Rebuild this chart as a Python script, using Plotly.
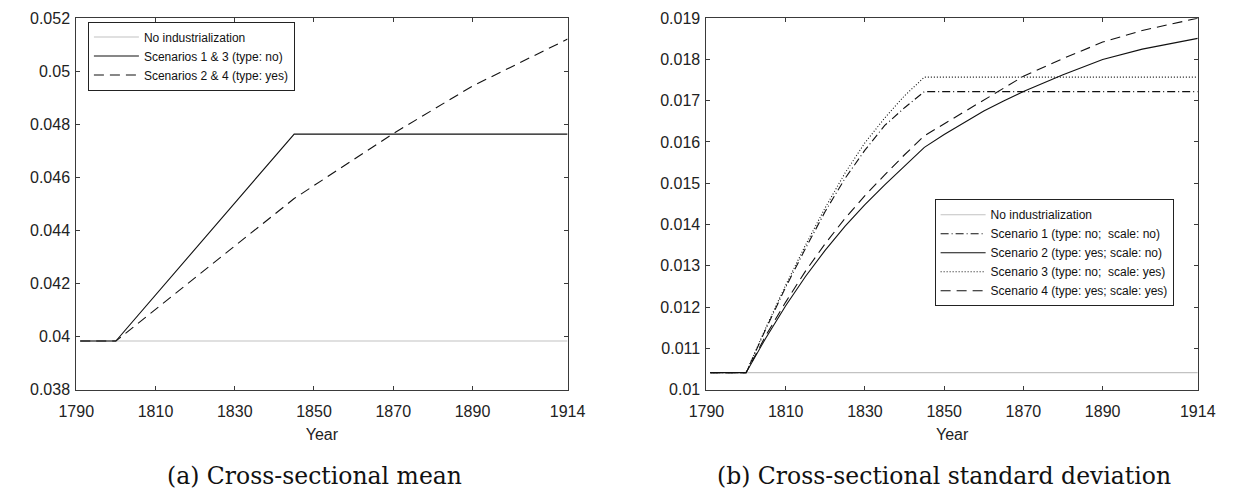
import plotly.graph_objects as go

# ---------------- data ----------------
years_mean = [1791, 1800, 1845, 1870, 1890, 1914]
mean_no_ind = [0.03983, 0.03983, 0.03983, 0.03983, 0.03983, 0.03983]
mean_s13 = [0.03983, 0.03983, 0.04763, 0.04763, 0.04763, 0.04763]
mean_s24 = [0.03983, 0.03983, 0.04520, 0.04765, 0.04944, 0.05121]

years_sd = [1791, 1800, 1805, 1810, 1815, 1820, 1825, 1830, 1835, 1840, 1845,
            1850, 1855, 1860, 1865, 1870, 1880, 1890, 1900, 1914]
sd_no_ind = [0.01041] * 20
sd_s1 = [0.01041, 0.01041, 0.01147, 0.01248, 0.01342, 0.01432, 0.01512, 0.01580, 0.01640, 0.01683, 0.01722,
         0.01722, 0.01722, 0.01722, 0.01722, 0.01722, 0.01722, 0.01722, 0.01722, 0.01722]
sd_s2 = [0.01041, 0.01041, 0.01125, 0.01203, 0.01274, 0.01338, 0.01396, 0.01448, 0.01496, 0.01542, 0.01587,
         0.01618, 0.01647, 0.01675, 0.01699, 0.01722, 0.01763, 0.01800, 0.01825, 0.01851]
sd_s3 = [0.01041, 0.01041, 0.01150, 0.01253, 0.01350, 0.01441, 0.01525, 0.01598, 0.01658, 0.01712, 0.01757,
         0.01757, 0.01757, 0.01757, 0.01757, 0.01757, 0.01757, 0.01757, 0.01757, 0.01757]
sd_s4 = [0.01041, 0.01041, 0.01131, 0.01212, 0.01287, 0.01354, 0.01415, 0.01470, 0.01520, 0.01569, 0.01615,
         0.01644, 0.01673, 0.01702, 0.01731, 0.01759, 0.01802, 0.01842, 0.01870, 0.01900]

x_tickvals = [1790, 1810, 1830, 1850, 1870, 1890, 1914]
x_ticktext = ["1790", "1810", "1830", "1850", "1870", "1890", "1914"]
y1_tickvals = [0.038, 0.040, 0.042, 0.044, 0.046, 0.048, 0.050, 0.052]
y1_ticktext = ["0.038", "0.04", "0.042", "0.044", "0.046", "0.048", "0.05", "0.052"]
y2_tickvals = [0.010, 0.011, 0.012, 0.013, 0.014, 0.015, 0.016, 0.017, 0.018, 0.019]
y2_ticktext = ["0.01", "0.011", "0.012", "0.013", "0.014", "0.015", "0.016", "0.017", "0.018", "0.019"]

names_mean = ["No industrialization", "Scenarios 1 & 3 (type: no)", "Scenarios 2 & 4 (type: yes)"]
names_sd = ["No industrialization",
            "Scenario 1 (type: no;\u00a0 scale: no)",
            "Scenario 2 (type: yes; scale: no)",
            "Scenario 3 (type: no;\u00a0 scale: yes)",
            "Scenario 4 (type: yes; scale: yes)"]

captions = ["(a) Cross-sectional mean", "(b) Cross-sectional standard deviation"]

# ---------------- styles ----------------
GRAY = "#c2c2c2"
BLACK = "#111111"
DASH = "10px,6px"
DOT = "1px,2px"
DASHDOT = "8px,3px,1px,3px"
SANS = "Liberation Sans, Arial, sans-serif"
SERIF = "DejaVu Serif, serif"

W, H = 1241, 500
fig = go.Figure()

# left panel
fig.add_trace(go.Scatter(x=years_mean, y=mean_no_ind, mode="lines", name=names_mean[0],
                         line=dict(color=GRAY, width=1.2), xaxis="x", yaxis="y", legend="legend"))
fig.add_trace(go.Scatter(x=years_mean, y=mean_s13, mode="lines", name=names_mean[1],
                         line=dict(color=BLACK, width=1.1), xaxis="x", yaxis="y", legend="legend"))
fig.add_trace(go.Scatter(x=years_mean, y=mean_s24, mode="lines", name=names_mean[2],
                         line=dict(color=BLACK, width=1.1, dash=DASH), xaxis="x", yaxis="y", legend="legend"))

# right panel
fig.add_trace(go.Scatter(x=years_sd, y=sd_no_ind, mode="lines", name=names_sd[0],
                         line=dict(color=GRAY, width=1.2), xaxis="x2", yaxis="y2", legend="legend2"))
fig.add_trace(go.Scatter(x=years_sd, y=sd_s1, mode="lines", name=names_sd[1],
                         line=dict(color=BLACK, width=1.1, dash=DASHDOT), xaxis="x2", yaxis="y2", legend="legend2"))
fig.add_trace(go.Scatter(x=years_sd, y=sd_s2, mode="lines", name=names_sd[2],
                         line=dict(color=BLACK, width=1.1), xaxis="x2", yaxis="y2", legend="legend2"))
fig.add_trace(go.Scatter(x=years_sd, y=sd_s3, mode="lines", name=names_sd[3],
                         line=dict(color=BLACK, width=1.1, dash=DOT), xaxis="x2", yaxis="y2", legend="legend2"))
fig.add_trace(go.Scatter(x=years_sd, y=sd_s4, mode="lines", name=names_sd[4],
                         line=dict(color=BLACK, width=1.1, dash=DASH), xaxis="x2", yaxis="y2", legend="legend2"))

def px_x(p):
    return p / W

def px_y(p):
    return 1 - p / H

tick_font = dict(family=SANS, size=16, color="#222222")
axis_common = dict(showline=True, linecolor="#3a3a3a", linewidth=1, mirror="ticks",
                   ticks="inside", ticklen=4, tickcolor="#3a3a3a", showgrid=False, zeroline=False,
                   tickfont=tick_font)
xtitle = dict(text="Year", font=dict(family=SANS, size=16, color="#222222"), standoff=10)

legend_common = dict(xanchor="left", yanchor="top",
                     bgcolor="white", bordercolor="#222222", borderwidth=1,
                     font=dict(family=SANS, size=12, color="#111111"),
                     tracegroupgap=0, itemwidth=45)

fig.update_layout(
    width=W, height=H,
    margin=dict(l=0, r=0, t=0, b=0),
    paper_bgcolor="white", plot_bgcolor="white",
    showlegend=True,
    xaxis=dict(domain=[px_x(60), px_x(566)], range=[1790, 1914], anchor="y",
               tickvals=x_tickvals, ticktext=x_ticktext, ticklabelstandoff=7,
               title=xtitle, **axis_common),
    yaxis=dict(domain=[px_y(395), px_y(10.5)], range=[0.038, 0.052], anchor="x",
               tickvals=y1_tickvals, ticktext=y1_ticktext, ticklabelstandoff=2, **axis_common),
    xaxis2=dict(domain=[px_x(709), px_x(1215)], range=[1790, 1914], anchor="y2",
                tickvals=x_tickvals, ticktext=x_ticktext, ticklabelstandoff=7,
                title=xtitle, **axis_common),
    yaxis2=dict(domain=[px_y(395), px_y(10.5)], range=[0.010, 0.019], anchor="x2",
                tickvals=y2_tickvals, ticktext=y2_ticktext, ticklabelstandoff=2, **axis_common),
    legend=dict(x=px_x(72), y=px_y(14), **legend_common),
    legend2=dict(x=px_x(944), y=px_y(198), **legend_common),
    annotations=[
        dict(text=captions[0], x=px_x(305), y=px_y(484), xref="paper", yref="paper",
             xanchor="center", yanchor="middle", showarrow=False,
             font=dict(family=SERIF, size=23.5, color="#111111")),
        dict(text=captions[1], x=px_x(954), y=px_y(484), xref="paper", yref="paper",
             xanchor="center", yanchor="middle", showarrow=False,
             font=dict(family=SERIF, size=23.5, color="#111111")),
    ],
)

fig.write_html("out.html")
